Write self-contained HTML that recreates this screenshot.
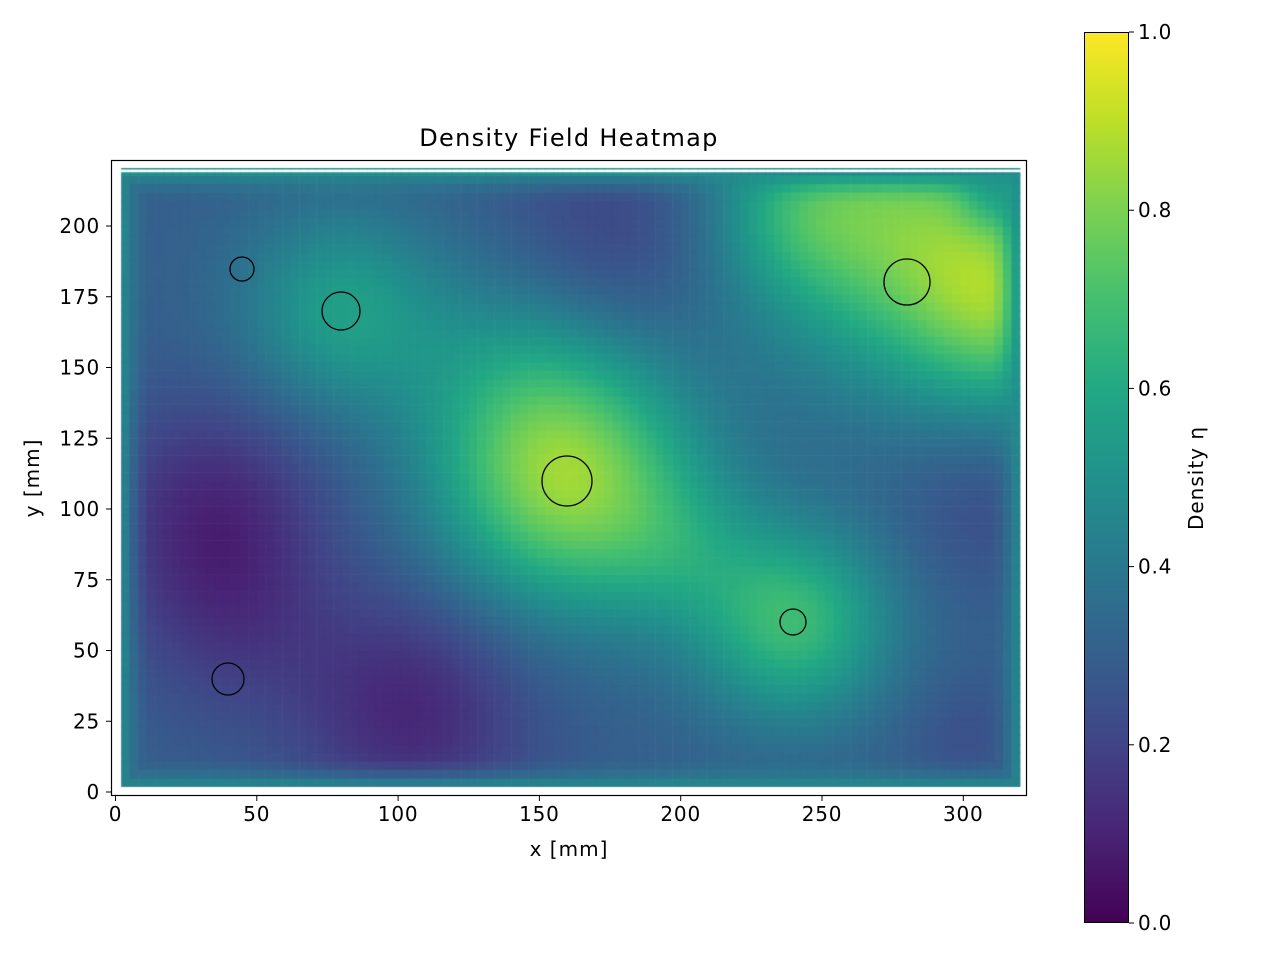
<!DOCTYPE html>
<html><head><meta charset="utf-8"><style>
body{margin:0;background:#fff;width:1280px;height:960px;overflow:hidden}
svg text{font-family:"DejaVu Sans","Liberation Sans",sans-serif;fill:#000}
#c{position:absolute;left:0;top:0}
#s{position:absolute;left:0;top:0}
</style></head><body>
<canvas id="c" width="1280" height="960"></canvas>
<svg id="s" width="1280" height="960">
<defs><linearGradient id="vir" x1="0" y1="1" x2="0" y2="0">
<stop offset="0" stop-color="#440154"/><stop offset="0.1" stop-color="#482475"/><stop offset="0.2" stop-color="#414487"/><stop offset="0.3" stop-color="#355f8d"/><stop offset="0.4" stop-color="#2a788e"/><stop offset="0.5" stop-color="#21918c"/><stop offset="0.6" stop-color="#22a884"/><stop offset="0.7" stop-color="#44bf70"/><stop offset="0.8" stop-color="#7ad151"/><stop offset="0.9" stop-color="#bddf26"/><stop offset="1" stop-color="#fde725"/>
</linearGradient></defs>
<g fill="none" stroke="#000" stroke-width="1.3">
<circle cx="242" cy="269" r="12"/><circle cx="341" cy="311" r="19"/><circle cx="907" cy="282" r="23"/><circle cx="567" cy="481" r="25"/><circle cx="793" cy="622" r="13"/><circle cx="228" cy="679" r="16"/>
</g>
<rect x="111.5" y="160.5" width="915" height="635" fill="none" stroke="#000" stroke-width="1.2"/>
<g id="ticks" stroke="#000" stroke-width="1"></g>
<g font-size="20" letter-spacing="0.8" id="tl"></g>
<text x="569" y="146" font-size="24" letter-spacing="1.3" text-anchor="middle">Density Field Heatmap</text>
<text x="569" y="856" font-size="20" letter-spacing="1" text-anchor="middle">x [mm]</text>
<text transform="translate(39,478) rotate(-90)" font-size="20" letter-spacing="1" text-anchor="middle">y [mm]</text>
<rect x="1084" y="32" width="45" height="891" fill="url(#vir)"/>
<rect x="1084.5" y="32.5" width="44" height="890" fill="none" stroke="#000" stroke-width="1"/>
<text transform="translate(1203,478) rotate(-90)" font-size="20" letter-spacing="1" text-anchor="middle">Density η</text>
</svg>
<script>
const stops=[[68,1,84],[72,36,117],[65,68,135],[53,95,141],[42,120,142],[33,145,140],[34,168,132],[68,191,112],[122,209,81],[189,223,38],[253,231,37]];
function vir(t){t=Math.max(0,Math.min(1,t))*10;let i=Math.min(9,Math.floor(t)),f=t-i,a=stops[i],b=stops[i+1];return `rgb(${a.map((v,k)=>Math.round(v+(b[k]-v)*f)).join(',')})`;}
function g(x,y,cx,cy,s){return Math.exp(-((x-cx)**2+(y-cy)**2)/(2*s*s));}
function F(x,y){let v=0.3+0.52*g(x,y,160,110,32)+0.37*g(x,y,240,60,24)+0.45*g(x,y,280,200,38)+0.33*g(x,y,318,170,25)+0.15*g(x,y,240,205,20)+0.25*g(x,y,80,170,25)+0.12*g(x,y,140,150,28)+0.12*g(x,y,200,85,20)
-0.18*g(x,y,35,100,28)-0.1*g(x,y,40,60,25)-0.19*g(x,y,105,30,30)-0.1*g(x,y,175,195,28)-0.06*g(x,y,305,100,20)-0.05*g(x,y,300,20,15)-0.12*g(x,y,310,210,8);
let d=Math.min(x-2,320-x,y-2,219-y);if(d<12){let w=1-d/12;v=v+(0.48-v)*w*w;}return v;}
const c=document.getElementById('c').getContext('2d');
const X=x=>115.5+x*2.826,Y=y=>792-y*2.83;
for(let x=2;x<320;x+=3)for(let y=2;y<219;y+=3){let x2=Math.min(x+3,320),y2=Math.min(y+3,219);c.fillStyle=vir(F(x+1.5,y+1.5));c.fillRect(X(x),Y(y2),X(x2)-X(x)+0.6,Y(y)-Y(y2)+0.6);}
for(let x=2;x<320;x+=3){c.fillStyle=vir(F(x+1.5,219));c.fillRect(X(x),168,X(Math.min(x+3,320))-X(x)+0.6,1.5);}
const t=document.getElementById('ticks'),l=document.getElementById('tl');let h='',s='';
for(let v=0;v<=300;v+=50){let p=X(v);h+=`<line x1="${p}" y1="796" x2="${p}" y2="801"/>`;s+=`<text x="${p}" y="821" text-anchor="middle">${v}</text>`;}
for(let v=0;v<=200;v+=25){let p=Y(v);h+=`<line x1="111" y1="${p}" x2="106" y2="${p}"/>`;s+=`<text x="100" y="${p+7}" text-anchor="end">${v}</text>`;}
for(let i=0;i<=5;i++){let p=923-i*0.2*891;h+=`<line x1="1129" y1="${p}" x2="1134" y2="${p}"/>`;s+=`<text x="1138" y="${p+7}">${(i*0.2).toFixed(1)}</text>`;}
t.innerHTML=h;l.innerHTML=s;
</script>
</body></html>
